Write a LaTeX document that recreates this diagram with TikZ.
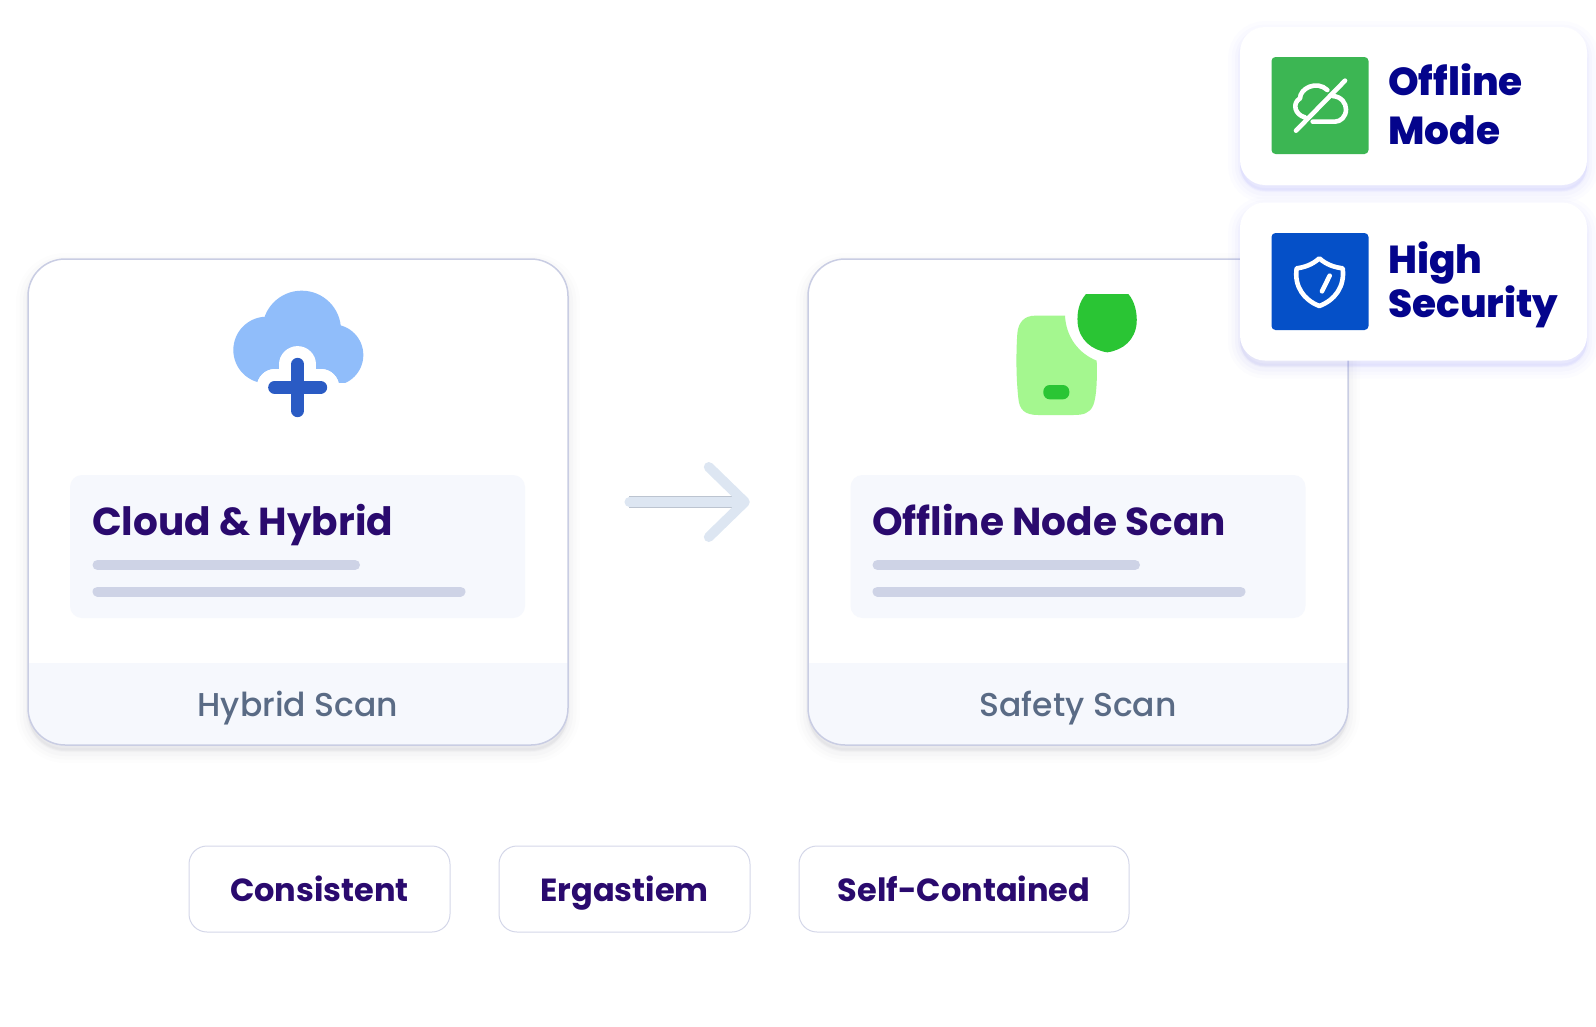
\documentclass[tikz,border=0pt]{standalone}
\usepackage{fontspec}
\usepackage{tikz}
\usetikzlibrary{arrows.meta}
\setmainfont{Poppins}
\newfontfamily\labelfont{Poppins Medium}
\newfontfamily\badgefont{Poppins ExtraBold}
\definecolor{titleink}{HTML}{2A0A6E}
\definecolor{badgeink}{HTML}{04048C}
\definecolor{labelink}{HTML}{5A6B85}
\definecolor{cardline}{HTML}{C9CDE3}
\definecolor{panelfill}{HTML}{F6F8FD}
\definecolor{barfill}{HTML}{CED3E6}
\definecolor{arrowfill}{HTML}{DDE6F2}
\definecolor{arrowedge}{HTML}{BCC4D0}
\definecolor{cloudlight}{HTML}{90BDFA}
\definecolor{clouddark}{HTML}{2A5BC4}
\definecolor{phonelight}{HTML}{A4F78F}
\definecolor{phonedark}{HTML}{2AC534}
\definecolor{offlinegreen}{HTML}{3CB653}
\definecolor{securityblue}{HTML}{0550C8}
\definecolor{badgeglow}{HTML}{7C7CF5}
\definecolor{cardglow}{HTML}{8A8A96}
\tikzset{
softshadow/.style={
preaction={draw=#1,fill=#1,opacity=.018,line width=24pt,transform canvas={yshift=-6pt}},
preaction={draw=#1,fill=#1,opacity=.025,line width=17pt,transform canvas={yshift=-6pt}},
preaction={draw=#1,fill=#1,opacity=.035,line width=10pt,transform canvas={yshift=-6pt}},
preaction={draw=#1,fill=#1,opacity=.045,line width=4pt,transform canvas={yshift=-5pt}}},
cardbox/.style={rectangle,rounded corners=37pt,minimum width=540pt,minimum height=486pt,inner sep=0pt},
panelbox/.style={rectangle,rounded corners=12pt,fill=panelfill,minimum width=455pt,minimum height=143pt,inner sep=0pt},
badgebox/.style={rectangle,rounded corners=25pt,fill=white,minimum width=347pt,minimum height=158pt,inner sep=0pt,softshadow=badgeglow},
iconbox/.style={rectangle,rounded corners=4pt,minimum width=97pt,minimum height=97pt,inner sep=0pt},
pillbox/.style={rectangle,rounded corners=18pt,draw=cardline!80,line width=1pt,fill=white,minimum height=86pt,inner sep=0pt},
titletext/.style={anchor=base west,inner sep=0pt,text=titleink,font=\fontsize{39}{40}\selectfont\bfseries},
labeltext/.style={anchor=base,inner sep=0pt,text=labelink,font=\fontsize{33}{36}\selectfont\labelfont},
pilltext/.style={inner sep=0pt,text height=26pt,text depth=2pt,text=titleink,font=\fontsize{32}{36}\selectfont\bfseries},
badgetext/.style={anchor=west,inner sep=0pt,align=left,text=badgeink,font=\fontsize{39}{#1}\selectfont\badgefont},
barline/.style={line width=10pt,line cap=round,barfill},
iconline/.style={white,line width=4.6pt,line cap=round,line join=round},
}
\begin{document}
\begin{tikzpicture}[x=1pt,y=-1pt]
\useasboundingbox (0,0) rectangle (1596,1026);

% left card
\node[cardbox,fill=white,softshadow=cardglow] (hybrid) at (298,502) {};
\fill[panelfill] (568,663) -- (28,663) [rounded corners=37pt] -- (28,745) -- (568,745) [sharp corners] -- cycle;
\node[cardbox,draw=cardline,line width=1.5pt] at (298,502) {};
\node[panelbox] (hybridpanel) at (297.5,546.5) {};
\node[titletext] (hybridtitle) at (92,535.5) {Cloud \& Hybrid};
\draw[barline] (97.5,565) -- (355,565);
\draw[barline] (97.5,591.5) -- (460.5,591.5);
\node[labeltext] (hybridlabel) at (298,716) {Hybrid Scan};

% cloud icon
\begin{scope}[shift={(200,270)},scale=1/3]
\fill[cloudlight] (200,240) circle (100);
\fill[cloudlight] (398,255) circle (92);
\fill[cloudlight] (305,180) circle (118);
\fill[cloudlight] (200,180) rectangle (400,320);
\draw[white,line width=36.5pt,line cap=round] (225,352) -- (363,352);
\draw[white,line width=36.5pt,line cap=round] (293,283) -- (293,440);
\fill[white] (100,340) rectangle (490,450);
\draw[white,line width=36.5pt,line cap=round] (225,352) -- (363,352);
\draw[clouddark,line width=13pt,line cap=round] (224,352) -- (362,352);
\draw[clouddark,line width=13pt,line cap=round] (293,283) -- (293,422);
\end{scope}

% right card
\node[cardbox,fill=white,softshadow=cardglow] (safety) at (1078,502) {};
\fill[panelfill] (1348,663) -- (808,663) [rounded corners=37pt] -- (808,745) -- (1348,745) [sharp corners] -- cycle;
\node[cardbox,draw=cardline,line width=1.5pt] at (1078,502) {};
\node[panelbox] (safetypanel) at (1078,546.5) {};
\node[titletext] (safetytitle) at (872,535.5) {Offline Node Scan};
\draw[barline] (877.5,565) -- (1135,565);
\draw[barline] (877.5,591.5) -- (1240.5,591.5);
\node[labeltext] (safetylabel) at (1078,716) {Safety Scan};

% phone icon
\begin{scope}[shift={(980,270)},scale=1/3]
\fill[phonelight] (165,137) -- (255,137) .. controls (258,200) and (295,250) .. (350,272)
  .. controls (352,320) and (350,380) .. (340,405) .. controls (330,430) and (310,435) .. (280,435)
  -- (175,435) .. controls (135,435) and (118,420) .. (115,385) .. controls (108,320) and (108,250) .. (112,190)
  .. controls (115,155) and (135,137) .. (165,137) -- cycle;
\fill[phonedark,rounded corners=6.5pt] (190,345) rectangle (268,388);
\fill[phonedark] (318,72) -- (445,72) .. controls (465,95) and (472,130) .. (470,160)
  .. controls (465,210) and (430,240) .. (382,247) .. controls (335,240) and (298,210) .. (293,160)
  .. controls (290,125) and (298,95) .. (318,72) -- cycle;
\end{scope}

% arrow
\draw[arrowedge,line width=11.5pt,shorten <=61pt,shorten >=75pt] (hybrid.east) -- (safety.west);
\draw[arrowfill,line width=9.5pt,line cap=round,shorten <=61pt,shorten >=58pt,-{Straight Barb[length=36pt,width=70pt,line width=10pt,round]}] (hybrid.east) -- (safety.west);

% badges
\node[badgebox] (offlinebadge) at (1413.5,106) {};
\node[iconbox,fill=offlinegreen] (offlineicon) at (1320,105.5) {};
\node[badgetext=49] (offlinetext) at (1388,104.5) {Offline\\Mode};
\begin{scope}[shift={(1220,10)},scale=1/3]
\draw[iconline] (228,362) -- (375,212);
\draw[iconline] (255,322) .. controls (225,315) and (215,280) .. (240,265)
  .. controls (240,235) and (290,210) .. (322,240);
\draw[iconline] (338,258) .. controls (365,260) and (378,280) .. (378,298)
  .. controls (378,320) and (362,335) .. (345,335) -- (278,335);
\end{scope}

\node[badgebox] (securitybadge) at (1413.5,281.5) {};
\node[iconbox,fill=securityblue] (securityicon) at (1320,281.5) {};
\node[badgetext=39] (securitytext) at (1388,285) {High\\Security};
\begin{scope}[shift={(1220,10)},scale=1/3]
\draw[iconline] (298,745) .. controls (320,765) and (345,772) .. (368,775)
  .. controls (375,830) and (345,870) .. (298,888)
  .. controls (252,870) and (222,830) .. (230,775)
  .. controls (252,772) and (276,765) .. (298,745) -- cycle;
\draw[iconline] (306,844) -- (329,797);
\end{scope}

% tags
\node[pillbox,minimum width=261pt] (consistent) at (319.5,889) {};
\node[pilltext] at (consistent) {Consistent};
\node[pillbox,minimum width=251pt] (ergastiem) at (624.5,889) {};
\node[pilltext] at (ergastiem) {Ergastiem};
\node[pillbox,minimum width=330pt] (selfcontained) at (964,889) {};
\node[pilltext] at (selfcontained) {Self-Contained};

\end{tikzpicture}
\end{document}
